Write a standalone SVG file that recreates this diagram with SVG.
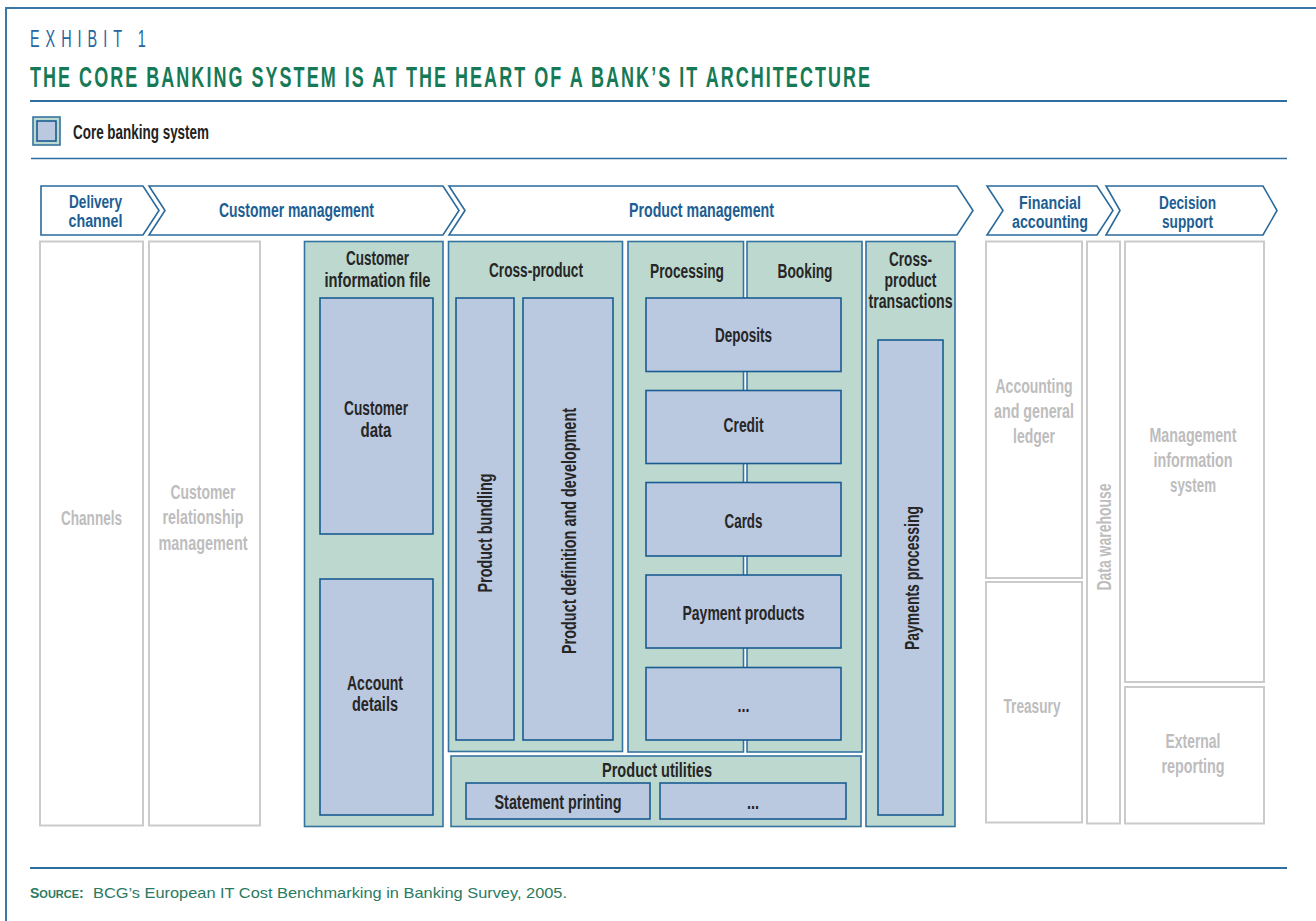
<svg xmlns="http://www.w3.org/2000/svg" width="1316" height="921" viewBox="0 0 1316 921">
  <style>
    .frame { fill: none; stroke: #3a78a8; stroke-width: 2; }
    .rule { stroke: #2e6f9f; stroke-width: 2; }
    .rule-thin { stroke: #2e6f9f; stroke-width: 1.5; }
    .hdr { fill: #ffffff; stroke: #2a6a9b; stroke-width: 1.6; }
    .grn { fill: #bdd8cf; stroke: #3674a0; stroke-width: 1.6; }
    .blu { fill: #bac9e0; stroke: #1a5c92; stroke-width: 1.6; }
    .gry { fill: #ffffff; stroke: #cbcbcb; stroke-width: 2; }
    .cond { font-family: "Liberation Sans Narrow", "Liberation Sans", Arial, sans-serif; font-weight: bold; font-size: 20px; }
    .two { font-size: 18px; }
    .ht { fill: #1d5e93; text-anchor: middle; }
    .t { fill: #262626; text-anchor: middle; }
    .gt { fill: #bdbdbd; text-anchor: middle; }
  </style>

  <!-- page frame, open to the right and bottom -->
  <path class="frame" d="M1316,8 H6 V921"/>

  <!-- heading: narrow, widely tracked capitals -->
  <g id="heading">
    <text transform="translate(30,47) scale(0.6,1)" x="0" y="0" textLength="193" lengthAdjust="spacing" font-family="Liberation Sans, sans-serif" font-size="24" fill="#2565a0">EXHIBIT 1</text>
    <text transform="translate(30,87) scale(0.6,1)" x="0" y="0" textLength="1400" lengthAdjust="spacing" font-family="Liberation Sans, sans-serif" font-weight="bold" font-size="30" fill="#157a55">THE CORE BANKING SYSTEM IS AT THE HEART OF A BANK’S IT ARCHITECTURE</text>
    <line class="rule" x1="30" y1="101" x2="1287" y2="101"/>
  </g>

  <!-- legend -->
  <g id="legend">
    <rect x="33" y="117" width="27" height="28" fill="#bdd8cf" stroke="#3674a0" stroke-width="1.6"/>
    <rect x="37" y="121" width="19" height="20" class="blu"/>
    <text class="cond" x="73" y="139" textLength="136" lengthAdjust="spacingAndGlyphs" fill="#222222">Core banking system</text>
    <line class="rule-thin" x1="31" y1="158.5" x2="1287" y2="158.5"/>
  </g>

  <!-- chevron header row -->
  <g id="hdr-delivery">
    <path class="hdr" d="M41,186 H143 L159,210.5 L143,235 H41 Z"/>
    <text class="cond two ht" x="95.5" y="208" textLength="53" lengthAdjust="spacingAndGlyphs">Delivery</text>
    <text class="cond two ht" x="95.5" y="227" textLength="54" lengthAdjust="spacingAndGlyphs">channel</text>
  </g>
  <g id="hdr-customer">
    <path class="hdr" d="M149,186 H443 L459,210.5 L443,235 H149 L165,210.5 Z"/>
    <text class="cond ht" x="296.5" y="217" textLength="155" lengthAdjust="spacingAndGlyphs">Customer management</text>
  </g>
  <g id="hdr-product">
    <path class="hdr" d="M449,186 H957 L973,210.5 L957,235 H449 L465,210.5 Z"/>
    <text class="cond ht" x="701.5" y="217" textLength="145" lengthAdjust="spacingAndGlyphs">Product management</text>
  </g>
  <g id="hdr-financial">
    <path class="hdr" d="M987,186 H1097 L1113,210.5 L1097,235 H987 L1003,210.5 Z"/>
    <text class="cond two ht" x="1050" y="209" textLength="62" lengthAdjust="spacingAndGlyphs">Financial</text>
    <text class="cond two ht" x="1050" y="228" textLength="76" lengthAdjust="spacingAndGlyphs">accounting</text>
  </g>
  <g id="hdr-decision">
    <path class="hdr" d="M1106,186 H1263 L1277,210.5 L1263,235 H1106 L1120,210.5 Z"/>
    <text class="cond two ht" x="1187.5" y="209" textLength="57" lengthAdjust="spacingAndGlyphs">Decision</text>
    <text class="cond two ht" x="1187.5" y="228" textLength="51" lengthAdjust="spacingAndGlyphs">support</text>
  </g>

  <!-- delivery / customer (non-core) -->
  <g id="channels">
    <rect class="gry" x="40" y="241.5" width="103" height="584"/>
    <text class="cond gt" x="91.5" y="525" textLength="61" lengthAdjust="spacingAndGlyphs">Channels</text>
  </g>
  <g id="crm">
    <rect class="gry" x="149" y="241.5" width="111" height="584"/>
    <text class="cond gt" x="203" y="499" textLength="65" lengthAdjust="spacingAndGlyphs">Customer</text>
    <text class="cond gt" x="203" y="524" textLength="81" lengthAdjust="spacingAndGlyphs">relationship</text>
    <text class="cond gt" x="203" y="550" textLength="89" lengthAdjust="spacingAndGlyphs">management</text>
  </g>

  <!-- customer information file -->
  <g id="cif">
    <rect class="grn" x="304.5" y="241.5" width="138.5" height="585"/>
    <text class="cond t" x="377.5" y="265" textLength="63" lengthAdjust="spacingAndGlyphs">Customer</text>
    <text class="cond t" x="377.5" y="287" textLength="106" lengthAdjust="spacingAndGlyphs">information file</text>
  </g>
  <g id="customer-data">
    <rect class="blu" x="320" y="298" width="113" height="236"/>
    <text class="cond t" x="376" y="415" textLength="64" lengthAdjust="spacingAndGlyphs">Customer</text>
    <text class="cond t" x="376" y="437" textLength="31" lengthAdjust="spacingAndGlyphs">data</text>
  </g>
  <g id="account-details">
    <rect class="blu" x="320" y="579" width="113" height="236"/>
    <text class="cond t" x="375" y="690" textLength="56" lengthAdjust="spacingAndGlyphs">Account</text>
    <text class="cond t" x="375" y="711" textLength="46" lengthAdjust="spacingAndGlyphs">details</text>
  </g>

  <!-- cross-product -->
  <g id="cross-product">
    <rect class="grn" x="448.5" y="241.5" width="174" height="510"/>
    <text class="cond t" x="536" y="277" textLength="94" lengthAdjust="spacingAndGlyphs">Cross-product</text>
  </g>
  <g id="product-bundling">
    <rect class="blu" x="456" y="298" width="58" height="442"/>
    <text class="cond t" transform="translate(485,533) rotate(-90)" x="0" y="7" textLength="119" lengthAdjust="spacingAndGlyphs">Product bundling</text>
  </g>
  <g id="product-definition">
    <rect class="blu" x="523" y="298" width="90" height="442"/>
    <text class="cond t" transform="translate(569,531) rotate(-90)" x="0" y="7" textLength="246" lengthAdjust="spacingAndGlyphs">Product definition and development</text>
  </g>

  <!-- processing / booking columns -->
  <g id="processing">
    <rect class="grn" x="628" y="241.5" width="115.5" height="510.5"/>
    <text class="cond t" x="687" y="278" textLength="74" lengthAdjust="spacingAndGlyphs">Processing</text>
  </g>
  <g id="booking">
    <rect class="grn" x="747" y="241.5" width="115" height="510.5"/>
    <text class="cond t" x="805" y="278" textLength="55" lengthAdjust="spacingAndGlyphs">Booking</text>
  </g>
  <g id="deposits">
    <rect class="blu" x="646" y="298" width="195" height="73.5"/>
    <text class="cond t" x="743.5" y="342" textLength="57" lengthAdjust="spacingAndGlyphs">Deposits</text>
  </g>
  <g id="credit">
    <rect class="blu" x="646" y="390.5" width="195" height="73"/>
    <text class="cond t" x="743.5" y="432" textLength="40" lengthAdjust="spacingAndGlyphs">Credit</text>
  </g>
  <g id="cards">
    <rect class="blu" x="646" y="482.5" width="195" height="73.5"/>
    <text class="cond t" x="743.5" y="528" textLength="38" lengthAdjust="spacingAndGlyphs">Cards</text>
  </g>
  <g id="payment-products">
    <rect class="blu" x="646" y="575" width="195" height="73"/>
    <text class="cond t" x="743.5" y="620" textLength="122" lengthAdjust="spacingAndGlyphs">Payment products</text>
  </g>
  <g id="other-products">
    <rect class="blu" x="646" y="667.5" width="195" height="72.5"/>
    <text class="cond t" x="743.5" y="712" textLength="12" lengthAdjust="spacingAndGlyphs">...</text>
  </g>

  <!-- product utilities -->
  <g id="product-utilities">
    <rect class="grn" x="451" y="756" width="410" height="70.5"/>
    <text class="cond t" x="657" y="777" textLength="110" lengthAdjust="spacingAndGlyphs">Product utilities</text>
  </g>
  <g id="statement-printing">
    <rect class="blu" x="466" y="783" width="184" height="36"/>
    <text class="cond t" x="558" y="809" textLength="127" lengthAdjust="spacingAndGlyphs">Statement printing</text>
  </g>
  <g id="other-utilities">
    <rect class="blu" x="660" y="783" width="186" height="36"/>
    <text class="cond t" x="753" y="809" textLength="12" lengthAdjust="spacingAndGlyphs">...</text>
  </g>

  <!-- cross-product transactions -->
  <g id="cross-product-transactions">
    <rect class="grn" x="866" y="241.5" width="89" height="585"/>
    <text class="cond t" x="910.5" y="266" textLength="43" lengthAdjust="spacingAndGlyphs">Cross-</text>
    <text class="cond t" x="910.5" y="287" textLength="52" lengthAdjust="spacingAndGlyphs">product</text>
    <text class="cond t" x="910.5" y="308" textLength="84" lengthAdjust="spacingAndGlyphs">transactions</text>
  </g>
  <g id="payments-processing">
    <rect class="blu" x="878" y="340" width="65" height="475"/>
    <text class="cond t" transform="translate(912,578) rotate(-90)" x="0" y="7" textLength="144" lengthAdjust="spacingAndGlyphs">Payments processing</text>
  </g>

  <!-- financial accounting / decision support (non-core) -->
  <g id="accounting">
    <rect class="gry" x="986" y="241.5" width="96" height="336.5"/>
    <text class="cond gt" x="1034" y="393" textLength="77" lengthAdjust="spacingAndGlyphs">Accounting</text>
    <text class="cond gt" x="1034" y="418" textLength="80" lengthAdjust="spacingAndGlyphs">and general</text>
    <text class="cond gt" x="1034" y="443" textLength="42" lengthAdjust="spacingAndGlyphs">ledger</text>
  </g>
  <g id="treasury">
    <rect class="gry" x="986" y="582" width="96" height="240.5"/>
    <text class="cond gt" x="1032" y="713" textLength="57" lengthAdjust="spacingAndGlyphs">Treasury</text>
  </g>
  <g id="data-warehouse">
    <rect class="gry" x="1087" y="241.5" width="33" height="582"/>
    <text class="cond gt" transform="translate(1104,537) rotate(-90)" x="0" y="7" textLength="107" lengthAdjust="spacingAndGlyphs" font-weight="normal">Data warehouse</text>
  </g>
  <g id="mis">
    <rect class="gry" x="1125" y="241.5" width="139" height="440.5"/>
    <text class="cond gt" x="1193" y="442" textLength="87" lengthAdjust="spacingAndGlyphs">Management</text>
    <text class="cond gt" x="1193" y="467" textLength="79" lengthAdjust="spacingAndGlyphs">information</text>
    <text class="cond gt" x="1193" y="492" textLength="46" lengthAdjust="spacingAndGlyphs">system</text>
  </g>
  <g id="external-reporting">
    <rect class="gry" x="1125" y="687" width="139" height="136.5"/>
    <text class="cond gt" x="1193" y="748" textLength="55" lengthAdjust="spacingAndGlyphs">External</text>
    <text class="cond gt" x="1193" y="773" textLength="63" lengthAdjust="spacingAndGlyphs">reporting</text>
  </g>

  <!-- no arrows in this chart: the blocks are laid side by side -->
  <g id="connectors"/>

  <!-- footer -->
  <g id="footer">
    <line class="rule" x1="30" y1="868" x2="1287" y2="868"/>
    <text x="30" y="898" font-family="Liberation Sans, Arial, sans-serif" font-weight="bold" fill="#2b7a5f" font-size="14">S<tspan font-size="11">OURCE</tspan>:</text>
    <text x="93" y="898" textLength="474" lengthAdjust="spacingAndGlyphs" font-family="Liberation Sans, Arial, sans-serif" font-size="14.5" fill="#2b7a5f">BCG’s European IT Cost Benchmarking in Banking Survey, 2005.</text>
  </g>
</svg>
